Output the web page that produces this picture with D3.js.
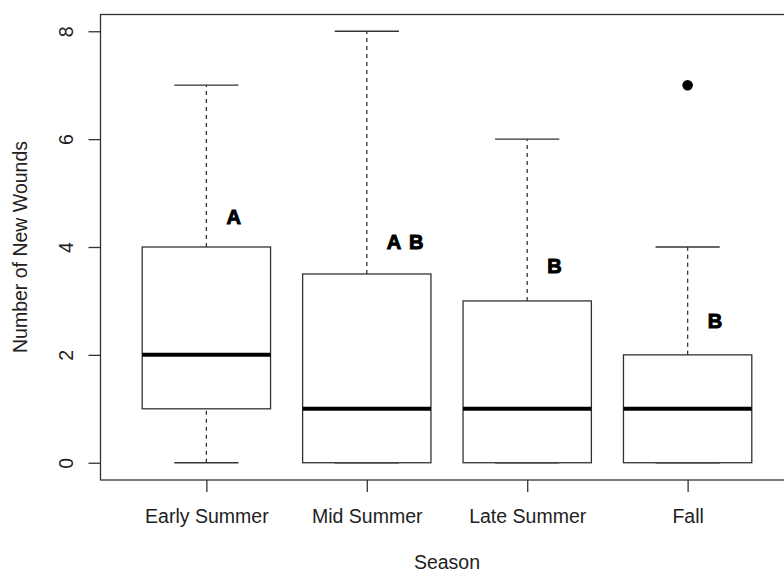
<!DOCTYPE html>
<html>
<head>
<meta charset="utf-8">
<script src="https://cdn.jsdelivr.net/npm/d3@7"></script>
<style>
  html, body { margin: 0; padding: 0; background: #fff; }
  svg { display: block; }
  text { font-family: "Liberation Sans", Arial, Helvetica, sans-serif; fill: #222; }
</style>
</head>
<body>
<svg id="chart" width="784" height="573"></svg>
<script>
// Five-number summaries of new wounds per season
const seasons   = ["Early Summer", "Mid Summer", "Late Summer", "Fall"];
const whiskerLo = [0, 0, 0, 0];
const q1        = [1, 0, 0, 0];
const median    = [2, 1, 1, 1];
const q3        = [4, 3.5, 3, 2];
const whiskerHi = [7, 8, 6, 4];
// Outliers: [season, value]
const outliers  = [["Fall", 7]];
// Significance group letters and their height (in wound counts)
const groupLetters = ["A", "A B", "B", "B"];
const letterLevel  = [4.56, 4.10, 3.66, 2.64];
const yTicks = [0, 2, 4, 6, 8];

const svg = d3.select("#chart");

// Category positions 1..4 on a linear scale, padded like a base R boxplot
const x = d3.scaleLinear().domain([0.34, 4.66]).range([100.5, 793.5]);
const y = d3.scaleLinear().domain([-0.32, 8.32]).range([480, 14]);
const step = x(2) - x(1);
const boxW = step * 0.8;
const capW = boxW * 0.5;

const rows = seasons.map((s, i) => ({
  name: s, pos: i + 1,
  lo: whiskerLo[i], q1: q1[i], med: median[i], q3: q3[i], hi: whiskerHi[i],
  letter: groupLetters[i], letterY: letterLevel[i]
}));

const line = "#333";

// Boxes
const g = svg.append("g");
const b = g.selectAll("g.box").data(rows).join("g").attr("class", "box");

// dashed whiskers
b.append("line")
  .attr("x1", d => x(d.pos)).attr("x2", d => x(d.pos))
  .attr("y1", d => y(d.q3)).attr("y2", d => y(d.hi))
  .attr("stroke", line).attr("stroke-width", 1.3).attr("stroke-dasharray", "4,4");
b.filter(d => d.lo < d.q1).append("line")
  .attr("x1", d => x(d.pos)).attr("x2", d => x(d.pos))
  .attr("y1", d => y(d.lo)).attr("y2", d => y(d.q1))
  .attr("stroke", line).attr("stroke-width", 1.3).attr("stroke-dasharray", "4,4");

// staples
b.append("line")
  .attr("x1", d => x(d.pos) - capW / 2).attr("x2", d => x(d.pos) + capW / 2)
  .attr("y1", d => y(d.hi)).attr("y2", d => y(d.hi))
  .attr("stroke", line).attr("stroke-width", 1.3);
b.append("line")
  .attr("x1", d => x(d.pos) - capW / 2).attr("x2", d => x(d.pos) + capW / 2)
  .attr("y1", d => y(d.lo)).attr("y2", d => y(d.lo))
  .attr("stroke", line).attr("stroke-width", 1.3);

// box body
b.append("rect")
  .attr("x", d => x(d.pos) - boxW / 2)
  .attr("width", boxW)
  .attr("y", d => y(d.q3))
  .attr("height", d => y(d.q1) - y(d.q3))
  .attr("fill", "#fff").attr("stroke", line).attr("stroke-width", 1.3);

// median
b.append("line")
  .attr("x1", d => x(d.pos) - boxW / 2).attr("x2", d => x(d.pos) + boxW / 2)
  .attr("y1", d => y(d.med)).attr("y2", d => y(d.med))
  .attr("stroke", "#000").attr("stroke-width", 4);

// outliers
g.selectAll("circle.out").data(outliers).join("circle")
  .attr("class", "out")
  .attr("cx", d => x(seasons.indexOf(d[0]) + 1))
  .attr("cy", d => y(d[1]))
  .attr("r", 5.3)
  .attr("fill", "#000");

// group letters
g.selectAll("text.letter").data(rows).join("text")
  .attr("class", "letter")
  .attr("x", d => x(d.pos) + step * 0.125)
  .attr("y", d => y(d.letterY))
  .attr("dy", "0.36em")
  .attr("font-size", 20)
  .attr("font-weight", "bold")
  .attr("word-spacing", 3)
  .style("fill", "#000")
  .attr("stroke", "#000").attr("stroke-width", 1)
  .text(d => d.letter);

// Plot frame
svg.append("rect")
  .attr("x", 100.5).attr("y", 14.5)
  .attr("width", 693).attr("height", 465.5)
  .attr("fill", "none").attr("stroke", line).attr("stroke-width", 1.3);

// Y axis
const yAxis = svg.append("g").attr("transform", "translate(100.5,0)")
  .call(d3.axisLeft(y).tickValues(yTicks).tickSize(12).tickPadding(0).tickFormat(d3.format("d")));
yAxis.select(".domain").remove();
yAxis.selectAll(".tick line").attr("stroke", line).attr("stroke-width", 1.3);
yAxis.selectAll(".tick text")
  .attr("font-size", 19.5)
  .attr("transform", "translate(-27.5,0) rotate(-90)")
  .attr("x", 0).attr("y", 0).attr("dy", "0")
  .attr("text-anchor", "middle")
  .style("font-family", "'Liberation Sans', Arial, sans-serif")
  .style("fill", "#222");

// X axis
const xAxis = svg.append("g").attr("transform", "translate(0,480)")
  .call(d3.axisBottom(x).tickValues(rows.map(d => d.pos)).tickSize(12).tickPadding(0)
    .tickFormat(v => seasons[v - 1]));
xAxis.select(".domain").remove();
xAxis.selectAll(".tick line").attr("stroke", line).attr("stroke-width", 1.3);
xAxis.selectAll(".tick text")
  .attr("font-size", 19.5)
  .attr("y", 43).attr("dy", "0")
  .style("font-family", "'Liberation Sans', Arial, sans-serif")
  .style("fill", "#222");

// Axis titles
svg.append("text")
  .attr("x", 447).attr("y", 569)
  .attr("text-anchor", "middle").attr("font-size", 19.5)
  .text("Season");

svg.append("text")
  .attr("transform", `translate(27,${y(4)}) rotate(-90)`)
  .attr("text-anchor", "middle").attr("font-size", 19.5)
  .text("Number of New Wounds");
</script>
</body>
</html>
